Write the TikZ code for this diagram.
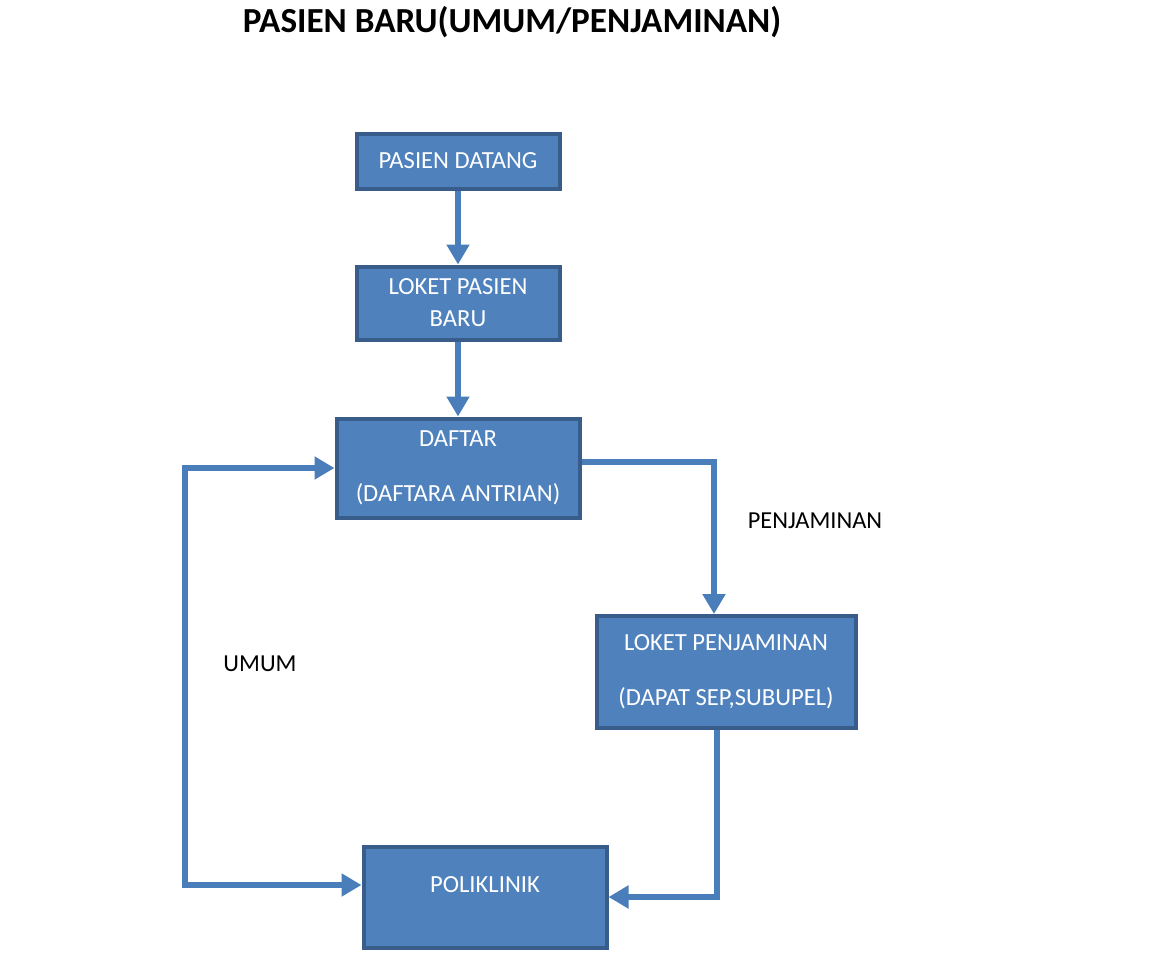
\documentclass[tikz,border=0pt]{standalone}
\usepackage{fontspec}
\setmainfont{Carlito}
\usetikzlibrary{arrows.meta}
\definecolor{boxfill}{HTML}{4F81BD}
\definecolor{boxline}{HTML}{385D8A}
\definecolor{flowblue}{HTML}{4A7EBB}
\begin{document}
\begin{tikzpicture}[
    x=0.5pt, y=-0.5pt,
    >={Triangle[width=11pt,length=10pt]},
    box/.style={rectangle, draw=boxline, fill=boxfill, line width=2pt, text=white, align=center, inner sep=0pt, font=\fontsize{12.3}{14.5}\selectfont},
    flow/.style={->, draw=flowblue, line width=3.2pt},
    lbl/.style={font=\fontsize{12.2}{14.5}\selectfont, text=black}
]
\useasboundingbox (0,0) rectangle (1152,953);

% Title
\node[font=\bfseries\fontsize{17.6}{21}\selectfont] (title) at (512,22) {PASIEN BARU(UMUM/PENJAMINAN)};

% Boxes
\node[box, minimum width=101.5pt, minimum height=27.5pt] (datang) at (458,161) {PASIEN DATANG};
\node[box, minimum width=101.5pt, minimum height=36.5pt] (loket) at (458,303) {LOKET PASIEN\\[1.5pt]BARU};
\node[box, minimum width=121.5pt, minimum height=49.5pt] (daftar) at (458,468) {DAFTAR\\[13pt](DAFTARA ANTRIAN)};
\node[box, minimum width=129.5pt, minimum height=56pt] (penj) at (726,672) {LOKET PENJAMINAN\\[13pt](DAPAT SEP,SUBUPEL)};
\node[box, minimum width=121.5pt, minimum height=50.5pt] (poli) at (485,897) {POLIKLINIK\\[-2pt]\mbox{}};

% Labels
\node[lbl] (lblpenj) at (815,521) {PENJAMINAN};
\node[lbl] (lblumum) at (260,664) {UMUM};

% Main flow
\draw[flow] (datang) -- (loket);
\draw[flow] (loket) -- (daftar);
\draw[flow] ([yshift=3pt]daftar.east) -| ([xshift=-6pt]penj.north);
\draw[flow] ([xshift=-4.5pt]penj.south) |- (poli.east);

% Umum loop
\coordinate (leftrail) at (185,680);
\draw[flow, <->] (daftar.west) -| (leftrail) |- ([yshift=6pt]poli.west);

\end{tikzpicture}
\end{document}
